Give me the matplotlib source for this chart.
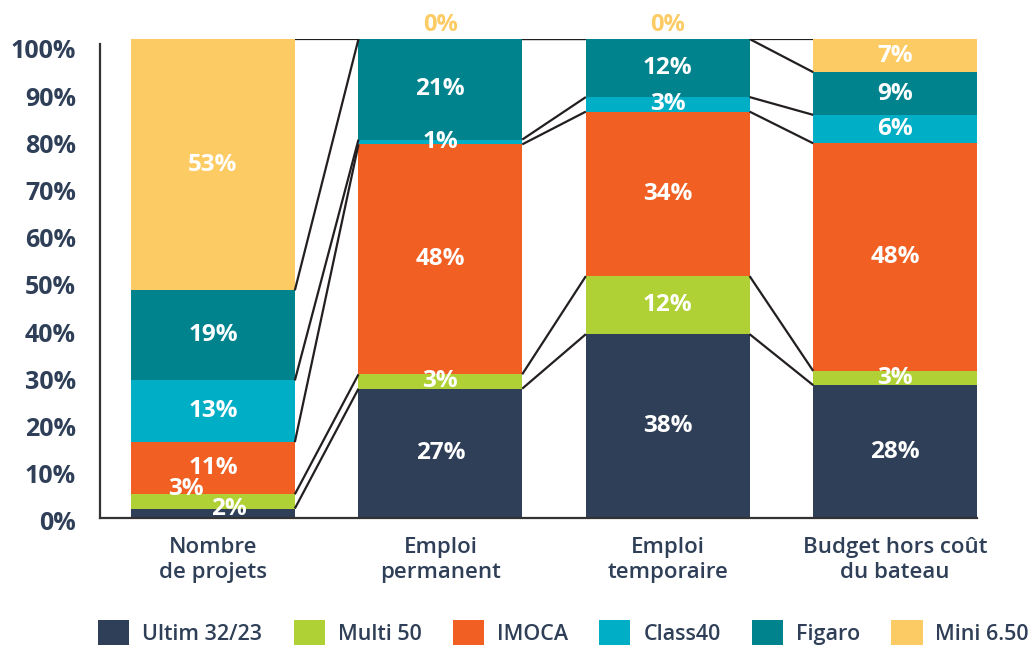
import matplotlib.pyplot as plt
import matplotlib.transforms as mtransforms
import numpy as np

plt.rcParams['font.family'] = ['Open Sans', 'DejaVu Sans']

# data
categories = ["Nombre\nde projets", "Emploi\npermanent", "Emploi\ntemporaire", "Budget hors coût\ndu bateau"]
series = ["Ultim 32/23", "Multi 50", "IMOCA", "Class40", "Figaro", "Mini 6.50"]
colors = ["#2E3F57", "#B0D136", "#F15F22", "#00AEC6", "#00838D", "#FDCB63"]
values = np.array([
    [2, 27, 38, 28],   # Ultim
    [3, 3, 12, 3],     # Multi 50
    [11, 48, 34, 48],  # IMOCA
    [13, 1, 3, 6],     # Class40
    [19, 21, 12, 9],   # Figaro
    [53, 0, 0, 7],     # Mini
], dtype=float)
yticks = list(range(0, 101, 10))

navy = "#2E3F57"
shares = values / values.sum(axis=0) * 100
cum = np.cumsum(shares, axis=0)
bottoms = cum - shares

fig = plt.figure(figsize=(10.36, 6.48), dpi=100)
ax = fig.add_axes([0.0965, 0.2006, 0.8465, 0.7392])

x = np.arange(len(categories))
w = 0.72
for i, s in enumerate(series):
    ax.bar(x, shares[i], w, bottom=bottoms[i], color=colors[i], label=s, zorder=2)

# connecting lines between bars
for j in range(len(categories) - 1):
    for i in range(len(series)):
        ax.plot([x[j] + w / 2, x[j + 1] - w / 2], [cum[i, j], cum[i, j + 1]],
                color="#231F20", lw=1.6, zorder=3, solid_capstyle="butt")

# value labels
for j in range(len(categories)):
    for i in range(len(series)):
        v = values[i, j]
        yc = bottoms[i, j] + shares[i, j] / 2
        xc = x[j]
        if v == 0:
            ax.text(xc, 102.9, "0%", ha="center", va="center", color=colors[5],
                    fontsize=17, fontweight="bold", clip_on=False)
            continue
        if j == 0 and i == 0:
            xc, yc = x[j] + 0.07, 1.9
        if j == 0 and i == 1:
            xc, yc = x[j] - 0.12, 6.0
        ax.text(xc, yc, f"{int(v)}%", ha="center", va="center", color="white",
                fontsize=17.5, fontweight="bold", zorder=4)

ax.set_xlim(-0.497, 3.36)
ax.set_ylim(0, 100)

# y labels drawn as text: in the original they sit a bit lower than the grid
ax.set_yticks([])
ylab_tr = mtransforms.blended_transform_factory(ax.transAxes, ax.transData)
for t in yticks:
    ax.text(-24 / 877, t * 0.985 - 1.2, f"{t}%", transform=ylab_tr, ha="right", va="center",
            fontsize=18, fontweight="bold", color=navy, clip_on=False)

ax.set_xticks(x)
ax.set_xticklabels(categories)
ax.tick_params(axis="x", length=0, pad=14, labelsize=16, labelcolor=navy)
for lab in ax.get_xticklabels():
    lab.set_fontweight("semibold")
    lab.set_linespacing(1.2)

ax.spines["top"].set_visible(False)
ax.spines["right"].set_visible(False)
ax.spines["left"].set_color("#333333")
ax.spines["bottom"].set_color("#333333")
ax.spines["left"].set_linewidth(1.6)
ax.spines["bottom"].set_linewidth(1.6)
ax.spines["left"].set_bounds(0, 99)

leg = fig.legend(loc="lower center", bbox_to_anchor=(0.544, -0.026), ncol=6, frameon=False,
                 handlelength=1.45, handleheight=1.45, handletextpad=0.6, columnspacing=1.45,
                 prop={"size": 15.5, "weight": "semibold"})
for t in leg.get_texts():
    t.set_color(navy)

fig.savefig("out.png", dpi=100)
